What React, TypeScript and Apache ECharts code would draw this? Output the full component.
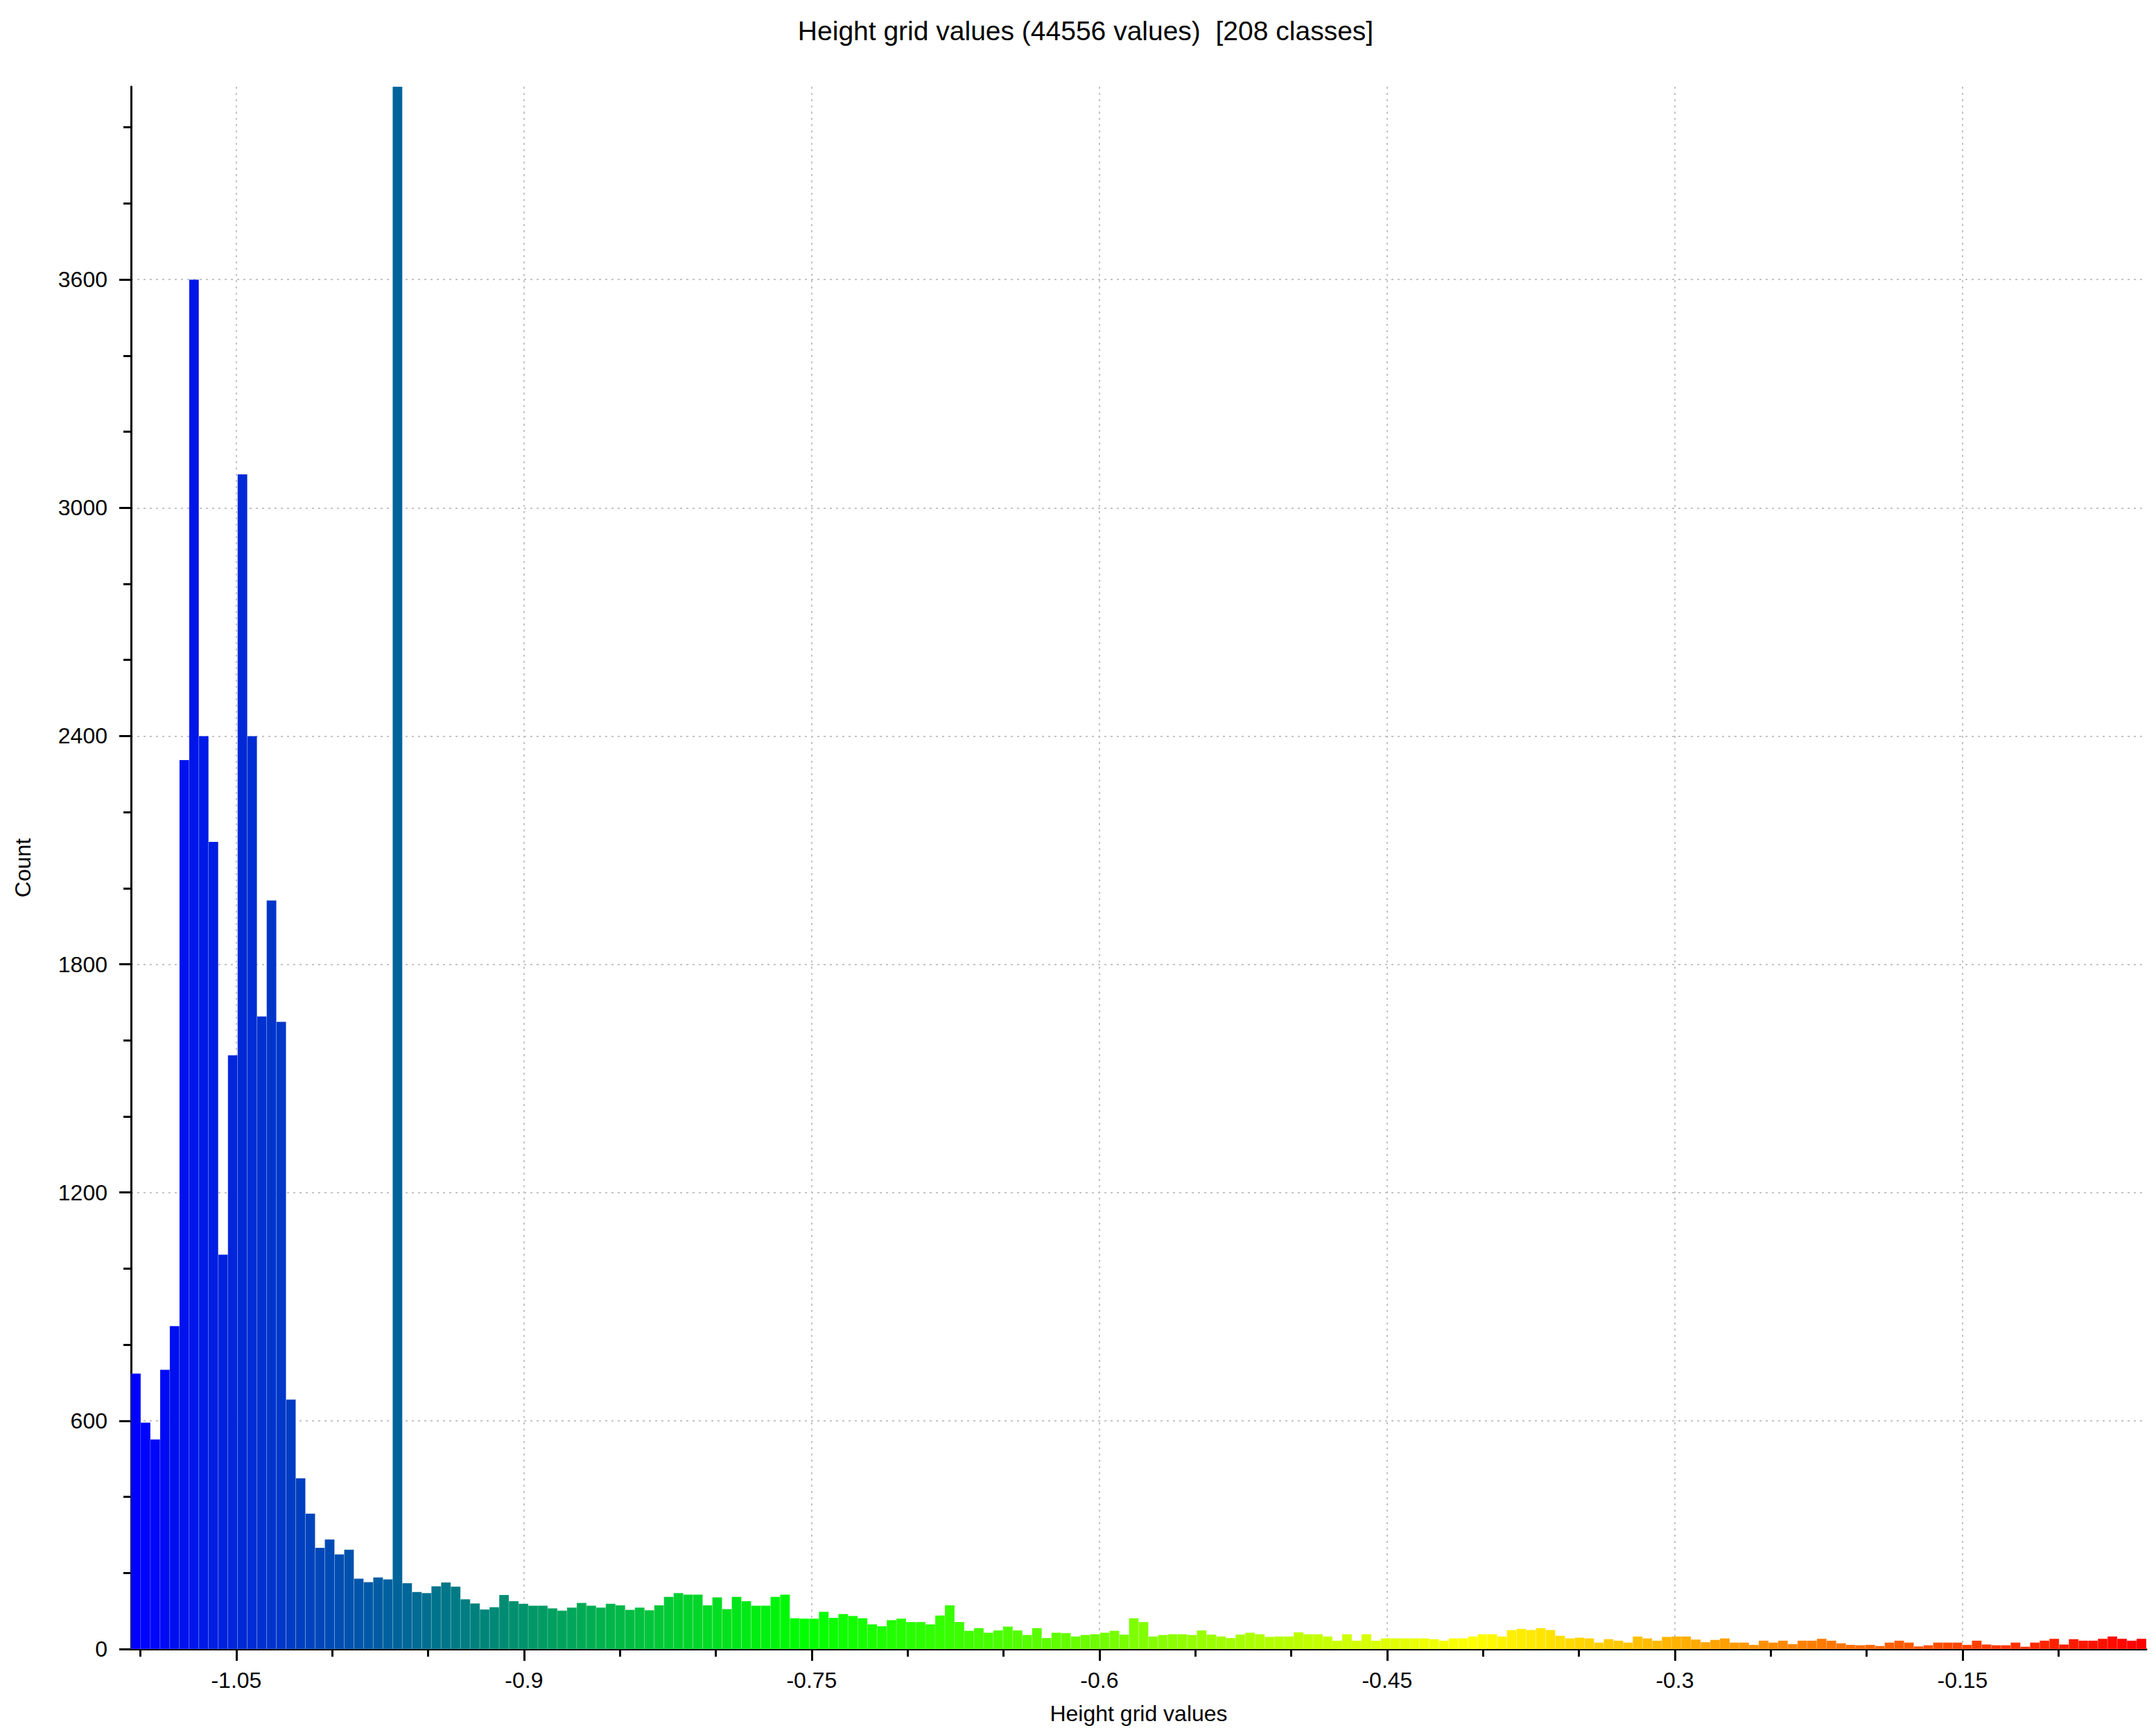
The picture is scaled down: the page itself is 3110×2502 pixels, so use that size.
import React, { useEffect, useRef } from "react";
import * as echarts from "echarts";

const TITLE = "Height grid values (44556 values)  [208 classes]";
const X_NAME = "Height grid values";
const Y_NAME = "Count";

const X_MIN = -1.1049;
const X_MAX = -0.0542;
const Y_MAX = 4107;

const X_MAJOR = [-1.05, -0.9, -0.75, -0.6, -0.45, -0.3, -0.15];
const X_MINOR = [-1.1, -1.0, -0.95, -0.85, -0.8, -0.7, -0.65, -0.55, -0.5, -0.4, -0.35, -0.25, -0.2, -0.1];
const Y_MAJOR = [0, 600, 1200, 1800, 2400, 3000, 3600];
const Y_MINOR = [200, 400, 800, 1000, 1400, 1600, 2000, 2200, 2600, 2800, 3200, 3400, 3800, 4000];

const counts = [
  724, 595, 551, 734, 849, 2337, 3600, 2400, 2122, 1037,
  1561, 3088, 2400, 1663, 1968, 1649, 656, 449, 356, 266,
  288, 249, 261, 185, 176, 188, 183, 4107, 173, 150,
  147, 165, 175, 164, 131, 120, 104, 110, 142, 126,
  119, 114, 114, 107, 101, 109, 121, 114, 109, 119,
  115, 103, 109, 102, 115, 137, 147, 143, 143, 115,
  136, 105, 137, 126, 114, 114, 137, 143, 81, 80,
  80, 98, 82, 92, 87, 81, 65, 60, 76, 80,
  71, 71, 65, 88, 115, 71, 48, 55, 43, 49,
  59, 49, 37, 55, 29, 43, 42, 33, 37, 39,
  43, 48, 38, 81, 71, 33, 37, 39, 39, 37,
  49, 38, 33, 29, 38, 43, 39, 32, 33, 33,
  44, 39, 39, 33, 22, 39, 22, 39, 22, 28,
  28, 28, 28, 28, 26, 22, 28, 28, 33, 39,
  39, 33, 50, 53, 50, 55, 50, 35, 28, 30,
  28, 17, 26, 22, 17, 33, 28, 22, 32, 33,
  33, 25, 18, 24, 28, 17, 17, 11, 22, 17,
  22, 13, 22, 22, 27, 22, 15, 11, 10, 11,
  8, 17, 22, 17, 7, 10, 17, 17, 17, 11,
  22, 12, 10, 10, 17, 6, 17, 22, 27, 12,
  26, 22, 22, 27, 33, 27, 22, 27,
];

const RAMP: [number, number[]][] = [
  [0, [0, 0, 255]],
  [1 / 3, [0, 255, 0]],
  [2 / 3, [255, 255, 0]],
  [1, [255, 0, 0]],
];

function rampColor(t: number): string {
  for (let i = 0; i < RAMP.length - 1; i++) {
    const [t0, c0] = RAMP[i];
    const [t1, c1] = RAMP[i + 1];
    if (t <= t1 || i === RAMP.length - 2) {
      const f = Math.max(0, Math.min(1, (t - t0) / (t1 - t0)));
      const c = c0.map((v, j) => Math.round(v + (c1[j] - v) * f));
      return `rgb(${c[0]},${c[1]},${c[2]})`;
    }
  }
  return "rgb(255,0,0)";
}

const FONT = "'Liberation Sans', Arial, sans-serif";

export default function App() {
  const ref = useRef<HTMLDivElement>(null);

  useEffect(() => {
    if (!ref.current) return;
    const chart = echarts.init(ref.current, undefined, { renderer: "svg" });
    const n = counts.length;
    const bw = (X_MAX - X_MIN) / n;
    const data = counts.map((c, k) => [X_MIN + k * bw, X_MIN + (k + 1) * bw, c, k]);

    const option: any = {
      animation: false,
      backgroundColor: "#ffffff",
      grid: { left: 189, top: 125, width: 2907, height: 2253, containLabel: false },
      graphic: [
        {
          type: "text",
          x: 1566,
          y: 44,
          style: {
            text: TITLE,
            fill: "#000",
            font: `39px ${FONT}`,
            textAlign: "center",
            textVerticalAlign: "middle",
          },
        },
      ],
      xAxis: [
        {
          type: "value",
          min: X_MIN,
          max: X_MAX,
          name: X_NAME,
          nameLocation: "middle",
          nameGap: 77,
          nameTextStyle: { fontFamily: FONT, fontSize: 32, color: "#000" },
          axisLine: { show: true, onZero: false, lineStyle: { color: "#000", width: 3 } },
          axisTick: { show: true, customValues: X_MAJOR, length: 17, lineStyle: { color: "#000", width: 3 } },
          axisLabel: {
            show: true,
            customValues: X_MAJOR,
            margin: 29,
            fontFamily: FONT,
            fontSize: 32,
            color: "#000",
            formatter: (v: number) => String(Math.round(v * 100) / 100),
          },
          splitLine: { show: true, lineStyle: { color: "#c4c4c4", width: 2, type: [3, 6] } },
        },
        {
          type: "value",
          min: X_MIN,
          max: X_MAX,
          position: "bottom",
          axisLine: { show: false },
          axisTick: { show: true, customValues: X_MINOR, length: 11, lineStyle: { color: "#000", width: 3 } },
          axisLabel: { show: false },
          splitLine: { show: false },
        },
      ],
      yAxis: [
        {
          type: "value",
          min: 0,
          max: Y_MAX,
          name: Y_NAME,
          nameLocation: "middle",
          nameGap: 140,
          nameRotate: 90,
          nameTextStyle: { fontFamily: FONT, fontSize: 32, color: "#000" },
          axisLine: { show: true, onZero: false, lineStyle: { color: "#000", width: 3 } },
          axisTick: { show: true, customValues: Y_MAJOR, length: 17, lineStyle: { color: "#000", width: 3 } },
          axisLabel: {
            show: true,
            customValues: Y_MAJOR,
            margin: 34,
            fontFamily: FONT,
            fontSize: 32,
            color: "#000",
            formatter: (v: number) => String(Math.round(v)),
          },
          splitLine: { show: true, lineStyle: { color: "#c4c4c4", width: 2, type: [3, 6] } },
        },
        {
          type: "value",
          min: 0,
          max: Y_MAX,
          position: "left",
          axisLine: { show: false },
          axisTick: { show: true, customValues: Y_MINOR, length: 11, lineStyle: { color: "#000", width: 3 } },
          axisLabel: { show: false },
          splitLine: { show: false },
        },
      ],
      series: [
        {
          type: "custom",
          xAxisIndex: 0,
          yAxisIndex: 0,
          z: 5,
          encode: { x: [0, 1], y: 2 },
          data,
          renderItem: (params: any, api: any) => {
            const x0 = api.value(0);
            const x1 = api.value(1);
            const c = api.value(2);
            const k = api.value(3);
            const p0 = api.coord([x0, c]);
            const p1 = api.coord([x1, 0]);
            const cs = params.coordSys;
            const top = Math.max(p0[1], cs.y);
            return {
              type: "rect",
              shape: { x: p0[0], y: top, width: p1[0] - p0[0], height: p1[1] - top },
              style: {
                fill: rampColor(k / (n - 1)),
                stroke: "rgba(255,255,255,0.18)",
                lineWidth: 1,
              },
            };
          },
        },
      ],
    };
    chart.setOption(option);
    return () => chart.dispose();
  }, []);

  return (
    <div
      ref={ref}
      style={{ position: "absolute", left: 0, top: 0, width: 3110, height: 2502, background: "#fff" }}
    />
  );
}
